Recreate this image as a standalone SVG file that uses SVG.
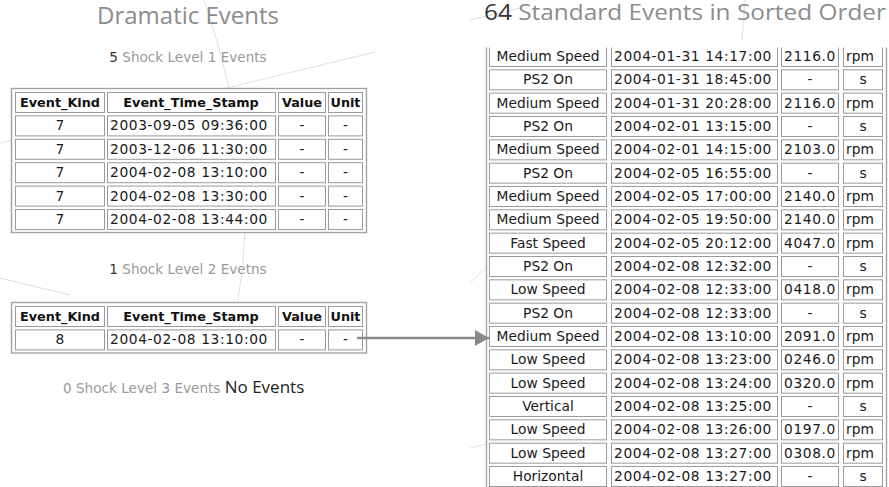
<svg xmlns="http://www.w3.org/2000/svg" xmlns:xlink="http://www.w3.org/1999/xlink" width="889" height="487" viewBox="0 0 889 487">
  <style>
    .title { font-family: "Open Sans", "Liberation Sans", sans-serif; fill: #8c8c8c; }
    .count { fill: #333333; }
    .caption { font-family: "DejaVu Sans", Verdana, sans-serif; font-size: 13.6px; fill: #9a9a9a; }
    .note { font-family: "Open Sans", "Liberation Sans", sans-serif; font-size: 17px; fill: #222222; }
    .tbl { fill: #ffffff; stroke: #a3a3a3; stroke-width: 1.4; }
    .cell { fill: #ffffff; stroke: #9a9a9a; stroke-width: 1; }
    .th { font-family: "DejaVu Sans", Verdana, sans-serif; font-weight: bold; font-size: 12.8px; fill: #111111; text-anchor: middle; }
    .td { font-family: "DejaVu Sans", Verdana, sans-serif; font-size: 13.8px; fill: #1a1a1a; }
    .mid { text-anchor: middle; }
    .num { letter-spacing: 0.6px; }
    .faint { fill: none; stroke: #e0e0e0; stroke-width: 1; }
    .link { stroke: #8a8a8a; stroke-width: 2.6; fill: none; }
  </style>
  <defs>
    <!-- one row of cells for the shock-level tables -->
    <g id="shockRow">
      <rect class="cell" x="15.5" y="0.5" width="89" height="20"/>
      <rect class="cell" x="107.5" y="0.5" width="168" height="20"/>
      <rect class="cell" x="278.5" y="0.5" width="47" height="20"/>
      <rect class="cell" x="328.5" y="0.5" width="34" height="20"/>
    </g>
    <!-- one row of cells for the standard events table -->
    <g id="stdRow">
      <rect class="cell" x="489.5" y="0.5" width="117" height="20"/>
      <rect class="cell" x="611.5" y="0.5" width="166" height="20"/>
      <rect class="cell" x="781.5" y="0.5" width="57" height="20"/>
      <rect class="cell" x="843.5" y="0.5" width="39" height="20"/>
    </g>
    <!-- the long table scrolls: its top edge is hidden -->
    <clipPath id="stdClip">
      <rect x="480" y="47.6" width="409" height="440"/>
    </clipPath>
    <marker id="arrowHead" markerWidth="14" markerHeight="16" refX="14" refY="8" orient="auto" markerUnits="userSpaceOnUse">
      <path d="M0,0 L14,8 L0,16 Z" fill="#8a8a8a"/>
    </marker>
  </defs>

  <rect x="0" y="0" width="889" height="487" fill="#ffffff"/>

  <!-- faint strokes in the page background -->
  <g id="backdrop">
    <path class="faint" d="M0,143 L375,52"/>
    <path class="faint" d="M204,0 Q262,170 238,300"/>
    <path class="faint" d="M0,278 L70,295"/>
    <path class="faint" d="M470,20 L520,8"/>
    <path class="faint" d="M745,0 L742,40"/>
    <path class="faint" d="M470,283 L607,150"/>
    <path class="faint" d="M620,180 L717,320 L750,487"/>
    <path class="faint" d="M470,448 L887,343"/>
  </g>

  <!-- headings -->
  <g id="heading-dramatic">
    <text class="title" x="188" y="24" font-size="24" text-anchor="middle">Dramatic Events</text>
  </g>
  <g id="heading-standard">
    <text class="title" x="484" y="20" font-size="22" textLength="402" lengthAdjust="spacingAndGlyphs"><tspan class="count">64</tspan> Standard Events in Sorted Order</text>
  </g>

  <!-- shock level 1 -->
  <g id="shock-level-1">
    <text class="caption" x="188" y="62" text-anchor="middle"><tspan class="count">5</tspan> Shock Level 1 Events</text>
    <rect class="tbl" x="11.5" y="88.5" width="355" height="144"/>
    <use xlink:href="#shockRow" y="92"/>
    <use xlink:href="#shockRow" y="115.4"/>
    <use xlink:href="#shockRow" y="138.8"/>
    <use xlink:href="#shockRow" y="162.2"/>
    <use xlink:href="#shockRow" y="185.6"/>
    <use xlink:href="#shockRow" y="209"/>
    <text class="th" x="60" y="106.5">Event_Kind</text>
    <text class="th" x="191" y="106.5">Event_Time_Stamp</text>
    <text class="th" x="302" y="106.5">Value</text>
    <text class="th" x="345.5" y="106.5">Unit</text>
    <g class="td">
      <text class="mid" x="60" y="130.4">7</text>
      <text class="num" x="110" y="130.4">2003-09-05 09:36:00</text>
      <text class="mid" x="302" y="130.4">-</text>
      <text class="mid" x="345.5" y="130.4">-</text>
      <text class="mid" x="60" y="153.8">7</text>
      <text class="num" x="110" y="153.8">2003-12-06 11:30:00</text>
      <text class="mid" x="302" y="153.8">-</text>
      <text class="mid" x="345.5" y="153.8">-</text>
      <text class="mid" x="60" y="177.2">7</text>
      <text class="num" x="110" y="177.2">2004-02-08 13:10:00</text>
      <text class="mid" x="302" y="177.2">-</text>
      <text class="mid" x="345.5" y="177.2">-</text>
      <text class="mid" x="60" y="200.6">7</text>
      <text class="num" x="110" y="200.6">2004-02-08 13:30:00</text>
      <text class="mid" x="302" y="200.6">-</text>
      <text class="mid" x="345.5" y="200.6">-</text>
      <text class="mid" x="60" y="224">7</text>
      <text class="num" x="110" y="224">2004-02-08 13:44:00</text>
      <text class="mid" x="302" y="224">-</text>
      <text class="mid" x="345.5" y="224">-</text>
    </g>
  </g>

  <!-- shock level 2 -->
  <g id="shock-level-2">
    <text class="caption" x="188" y="274" text-anchor="middle"><tspan class="count">1</tspan> Shock Level 2 Evetns</text>
    <rect class="tbl" x="11.5" y="302.5" width="355" height="50.5"/>
    <use xlink:href="#shockRow" y="306"/>
    <use xlink:href="#shockRow" y="329.4"/>
    <text class="th" x="60" y="320.5">Event_Kind</text>
    <text class="th" x="191" y="320.5">Event_Time_Stamp</text>
    <text class="th" x="302" y="320.5">Value</text>
    <text class="th" x="345.5" y="320.5">Unit</text>
    <g class="td">
      <text class="mid" x="60" y="344.4">8</text>
      <text class="num" x="110" y="344.4">2004-02-08 13:10:00</text>
      <text class="mid" x="302" y="344.4">-</text>
      <text class="mid" x="345.5" y="344.4">-</text>
    </g>
  </g>

  <!-- shock level 3 -->
  <g id="shock-level-3">
    <text x="63" y="393"><tspan class="caption count">0</tspan><tspan class="caption"> Shock Level 3 Events </tspan><tspan class="note">No Events</tspan></text>
  </g>

  <!-- standard events, sorted -->
  <g id="standard-events" clip-path="url(#stdClip)">
    <rect class="tbl" x="486.5" y="30.5" width="400" height="480"/>
    <use xlink:href="#stdRow" y="46"/>
    <use xlink:href="#stdRow" y="69.33"/>
    <use xlink:href="#stdRow" y="92.67"/>
    <use xlink:href="#stdRow" y="116"/>
    <use xlink:href="#stdRow" y="139.33"/>
    <use xlink:href="#stdRow" y="162.67"/>
    <use xlink:href="#stdRow" y="186"/>
    <use xlink:href="#stdRow" y="209.33"/>
    <use xlink:href="#stdRow" y="232.67"/>
    <use xlink:href="#stdRow" y="256"/>
    <use xlink:href="#stdRow" y="279.33"/>
    <use xlink:href="#stdRow" y="302.67"/>
    <use xlink:href="#stdRow" y="326"/>
    <use xlink:href="#stdRow" y="349.33"/>
    <use xlink:href="#stdRow" y="372.67"/>
    <use xlink:href="#stdRow" y="396"/>
    <use xlink:href="#stdRow" y="419.33"/>
    <use xlink:href="#stdRow" y="442.67"/>
    <use xlink:href="#stdRow" y="466"/>
    <use xlink:href="#stdRow" y="489.33"/>
    <g class="td">
      <text class="mid" x="548" y="61">Medium Speed</text>
      <text class="num" x="614" y="61">2004-01-31 14:17:00</text>
      <text class="num" x="784" y="61">2116.0</text>
      <text x="846" y="61">rpm</text>

      <text class="mid" x="548" y="84.33">PS2 On</text>
      <text class="num" x="614" y="84.33">2004-01-31 18:45:00</text>
      <text class="mid" x="810" y="84.33">-</text>
      <text class="mid" x="863" y="84.33">s</text>

      <text class="mid" x="548" y="107.67">Medium Speed</text>
      <text class="num" x="614" y="107.67">2004-01-31 20:28:00</text>
      <text class="num" x="784" y="107.67">2116.0</text>
      <text x="846" y="107.67">rpm</text>

      <text class="mid" x="548" y="131">PS2 On</text>
      <text class="num" x="614" y="131">2004-02-01 13:15:00</text>
      <text class="mid" x="810" y="131">-</text>
      <text class="mid" x="863" y="131">s</text>

      <text class="mid" x="548" y="154.33">Medium Speed</text>
      <text class="num" x="614" y="154.33">2004-02-01 14:15:00</text>
      <text class="num" x="784" y="154.33">2103.0</text>
      <text x="846" y="154.33">rpm</text>

      <text class="mid" x="548" y="177.67">PS2 On</text>
      <text class="num" x="614" y="177.67">2004-02-05 16:55:00</text>
      <text class="mid" x="810" y="177.67">-</text>
      <text class="mid" x="863" y="177.67">s</text>

      <text class="mid" x="548" y="201">Medium Speed</text>
      <text class="num" x="614" y="201">2004-02-05 17:00:00</text>
      <text class="num" x="784" y="201">2140.0</text>
      <text x="846" y="201">rpm</text>

      <text class="mid" x="548" y="224.33">Medium Speed</text>
      <text class="num" x="614" y="224.33">2004-02-05 19:50:00</text>
      <text class="num" x="784" y="224.33">2140.0</text>
      <text x="846" y="224.33">rpm</text>

      <text class="mid" x="548" y="247.67">Fast Speed</text>
      <text class="num" x="614" y="247.67">2004-02-05 20:12:00</text>
      <text class="num" x="784" y="247.67">4047.0</text>
      <text x="846" y="247.67">rpm</text>

      <text class="mid" x="548" y="271">PS2 On</text>
      <text class="num" x="614" y="271">2004-02-08 12:32:00</text>
      <text class="mid" x="810" y="271">-</text>
      <text class="mid" x="863" y="271">s</text>

      <text class="mid" x="548" y="294.33">Low Speed</text>
      <text class="num" x="614" y="294.33">2004-02-08 12:33:00</text>
      <text class="num" x="784" y="294.33">0418.0</text>
      <text x="846" y="294.33">rpm</text>

      <text class="mid" x="548" y="317.67">PS2 On</text>
      <text class="num" x="614" y="317.67">2004-02-08 12:33:00</text>
      <text class="mid" x="810" y="317.67">-</text>
      <text class="mid" x="863" y="317.67">s</text>

      <text class="mid" x="548" y="341">Medium Speed</text>
      <text class="num" x="614" y="341">2004-02-08 13:10:00</text>
      <text class="num" x="784" y="341">2091.0</text>
      <text x="846" y="341">rpm</text>

      <text class="mid" x="548" y="364.33">Low Speed</text>
      <text class="num" x="614" y="364.33">2004-02-08 13:23:00</text>
      <text class="num" x="784" y="364.33">0246.0</text>
      <text x="846" y="364.33">rpm</text>

      <text class="mid" x="548" y="387.67">Low Speed</text>
      <text class="num" x="614" y="387.67">2004-02-08 13:24:00</text>
      <text class="num" x="784" y="387.67">0320.0</text>
      <text x="846" y="387.67">rpm</text>

      <text class="mid" x="548" y="411">Vertical</text>
      <text class="num" x="614" y="411">2004-02-08 13:25:00</text>
      <text class="mid" x="810" y="411">-</text>
      <text class="mid" x="863" y="411">s</text>

      <text class="mid" x="548" y="434.33">Low Speed</text>
      <text class="num" x="614" y="434.33">2004-02-08 13:26:00</text>
      <text class="num" x="784" y="434.33">0197.0</text>
      <text x="846" y="434.33">rpm</text>

      <text class="mid" x="548" y="457.67">Low Speed</text>
      <text class="num" x="614" y="457.67">2004-02-08 13:27:00</text>
      <text class="num" x="784" y="457.67">0308.0</text>
      <text x="846" y="457.67">rpm</text>

      <text class="mid" x="548" y="481">Horizontal</text>
      <text class="num" x="614" y="481">2004-02-08 13:27:00</text>
      <text class="mid" x="810" y="481">-</text>
      <text class="mid" x="863" y="481">s</text>
    </g>
  </g>

  <!-- connectors -->
  <g id="connectors">
    <line class="link" x1="357" y1="338" x2="489" y2="338" marker-end="url(#arrowHead)"/>
  </g>
</svg>
